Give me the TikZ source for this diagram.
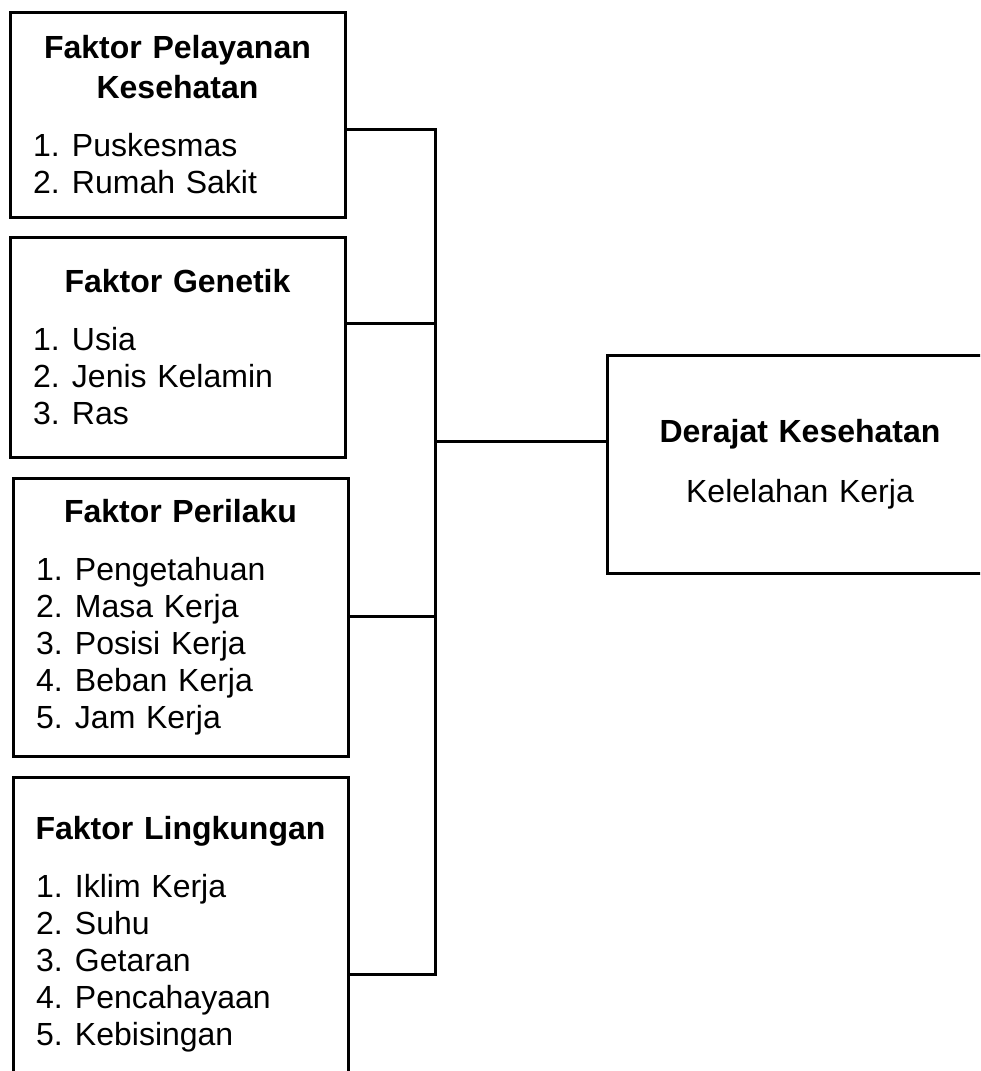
\documentclass[tikz,border=0pt]{standalone}
\usepackage{fontspec}
\setmainfont{Liberation Sans}
\usepackage{tikz}
\setlength{\parindent}{0pt}
\tikzstyle{kotak} = [rectangle, draw=black, line width=3pt, outer sep=0pt, anchor=north west, inner xsep=23pt, inner ysep=0pt, font=\fontsize{32}{37}\selectfont]
\tikzstyle{kiri} = [kotak, minimum width=335pt, text width=289pt, align=left]
\tikzstyle{kanan} = [kotak, minimum width=386pt, text width=340pt, align=center]
\tikzstyle{garis} = [line width=3pt, line join=miter]
\newcommand{\butir}[2]{\makebox[39pt][l]{#1}#2}
\newcommand{\judul}[1]{{\centering\textbf{#1}\par}\vspace{21pt}}

\begin{document}
\begin{tikzpicture}[x=1pt,y=-1pt]
\useasboundingbox (0,0) rectangle (980,1071);
\clip (0,0) rectangle (980,1071);
\node (pelayanan) [kiri, minimum height=205pt] at (10,12) {\judul{Faktor Pelayanan\\[3pt]Kesehatan}
\butir{1.}{Puskesmas}\\
\butir{2.}{Rumah Sakit}\par\vspace{5pt}};
\node (genetik) [kiri, minimum height=220pt] at (10,237) {\judul{Faktor Genetik}
\butir{1.}{Usia}\\
\butir{2.}{Jenis Kelamin}\\
\butir{3.}{Ras}\par\vspace{17pt}};
\node (perilaku) [kiri, minimum height=278pt] at (13,478) {\judul{Faktor Perilaku}
\butir{1.}{Pengetahuan}\\
\butir{2.}{Masa Kerja}\\
\butir{3.}{Posisi Kerja}\\
\butir{4.}{Beban Kerja}\\
\butir{5.}{Jam Kerja}\par\vspace{7pt}};
\node (lingkungan) [kiri, minimum height=315pt] at (13,777) {\judul{\makebox[289pt]{Faktor Lingkungan}}
\butir{1.}{Iklim Kerja}\\
\butir{2.}{Suhu}\\
\butir{3.}{Getaran}\\
\butir{4.}{Pencahayaan}\\
\butir{5.}{Kebisingan}};
\node (derajat) [kanan, minimum height=218pt] at (607,355) {\textbf{Derajat Kesehatan}\\[23pt]
Kelelahan Kerja\par\vspace{13pt}};
\coordinate (t1) at (435,129);
\coordinate (t2) at (435,323);
\coordinate (t3) at (435,616);
\coordinate (t4) at (435,974);
\coordinate (tk) at (435,441);
\draw[garis] (pelayanan.east |- t1) -- (t1) -- (t4) -- (lingkungan.east |- t4);
\draw[garis] (genetik.east |- t2) -- (t2);
\draw[garis] (perilaku.east |- t3) -- (t3);
\draw[garis] (tk) -- (derajat.west |- tk);
\end{tikzpicture}
\end{document}
